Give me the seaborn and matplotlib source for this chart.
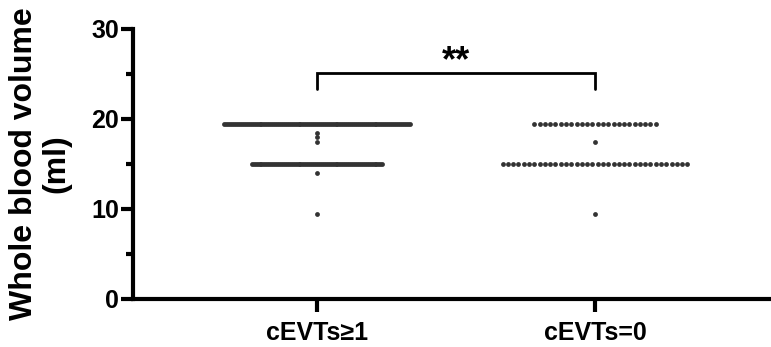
import numpy as np
import pandas as pd
import matplotlib
matplotlib.use("Agg")
import matplotlib.pyplot as plt
import seaborn as sns
from matplotlib.ticker import MultipleLocator

sns.set_theme(style="ticks")
plt.rcParams['font.family'] = ['Liberation Sans', 'DejaVu Sans']

# ---- data ----
categories = ["cEVTs\u22651", "cEVTs=0"]
# values and how many samples share each value
group1_values = [19.5, 18.5, 18.0, 17.5, 15.0, 14.0, 9.5]
group1_counts = [96, 1, 1, 1, 68, 1, 1]
group2_values = [19.5, 17.5, 15.0, 9.5]
group2_counts = [24, 1, 36, 1]
y_ticks = [0, 10, 20, 30]
significance = "**"

# ---- build table with scatter-dot offsets (column scatter layout) ----
max_half_width = 0.333
natural_step = 0.019
rows = []
for gi, (vals, cnts) in enumerate([(group1_values, group1_counts),
                                   (group2_values, group2_counts)]):
    m = max(cnts)
    step = min(natural_step, 2 * max_half_width / (m - 1))
    for v, c in zip(vals, cnts):
        for i in range(c):
            rows.append({"group": categories[gi],
                         "x": gi + (i - (c - 1) / 2) * step,
                         "volume": v})
df = pd.DataFrame(rows)

fig = plt.figure(figsize=(7.71, 3.47), dpi=100)
ax = fig.add_axes([133 / 771, 1 - 299 / 347, 1 - 133 / 771, (299 - 29) / 347])

sns.scatterplot(data=df, x="x", y="volume", ax=ax, color="#333333",
                s=12, linewidth=0, legend=False)

ax.set_xlim(-0.662, 1.633)
ax.set_ylim(0, 30)
ax.set_xticks([0, 1])
ax.set_xticklabels(categories)
ax.set_yticks(y_ticks)
ax.yaxis.set_minor_locator(MultipleLocator(5))
ax.set_xlabel("")
ax.set_ylabel("Whole blood volume\n(ml)", fontsize=23, fontweight="bold",
              linespacing=1.1, labelpad=14, color="black")

for lab in ax.get_xticklabels() + ax.get_yticklabels():
    lab.set_fontweight("bold")
    lab.set_fontsize(18)
    lab.set_color("black")

for s in ["left", "bottom"]:
    ax.spines[s].set_linewidth(3)
    ax.spines[s].set_color("black")
ax.spines["top"].set_visible(False)
ax.spines["right"].set_visible(False)
ax.spines["left"].set_capstyle("projecting")
ax.tick_params(axis="both", which="major", length=9, width=3, color="black", pad=1)
ax.tick_params(axis="y", which="minor", length=5, width=3, color="black")
ax.tick_params(axis="x", which="minor", length=0)
ax.tick_params(axis="x", which="major", pad=7)

# significance bracket
ax.plot([0, 0, 1, 1], [23.3, 25.1, 25.1, 23.3], color="black", lw=2,
        solid_joinstyle="miter", clip_on=False)
ax.text(0.5, 25.3, significance, ha="center", va="baseline", fontsize=26,
        fontweight="bold", color="black")

fig.savefig("out.png", dpi=100)
